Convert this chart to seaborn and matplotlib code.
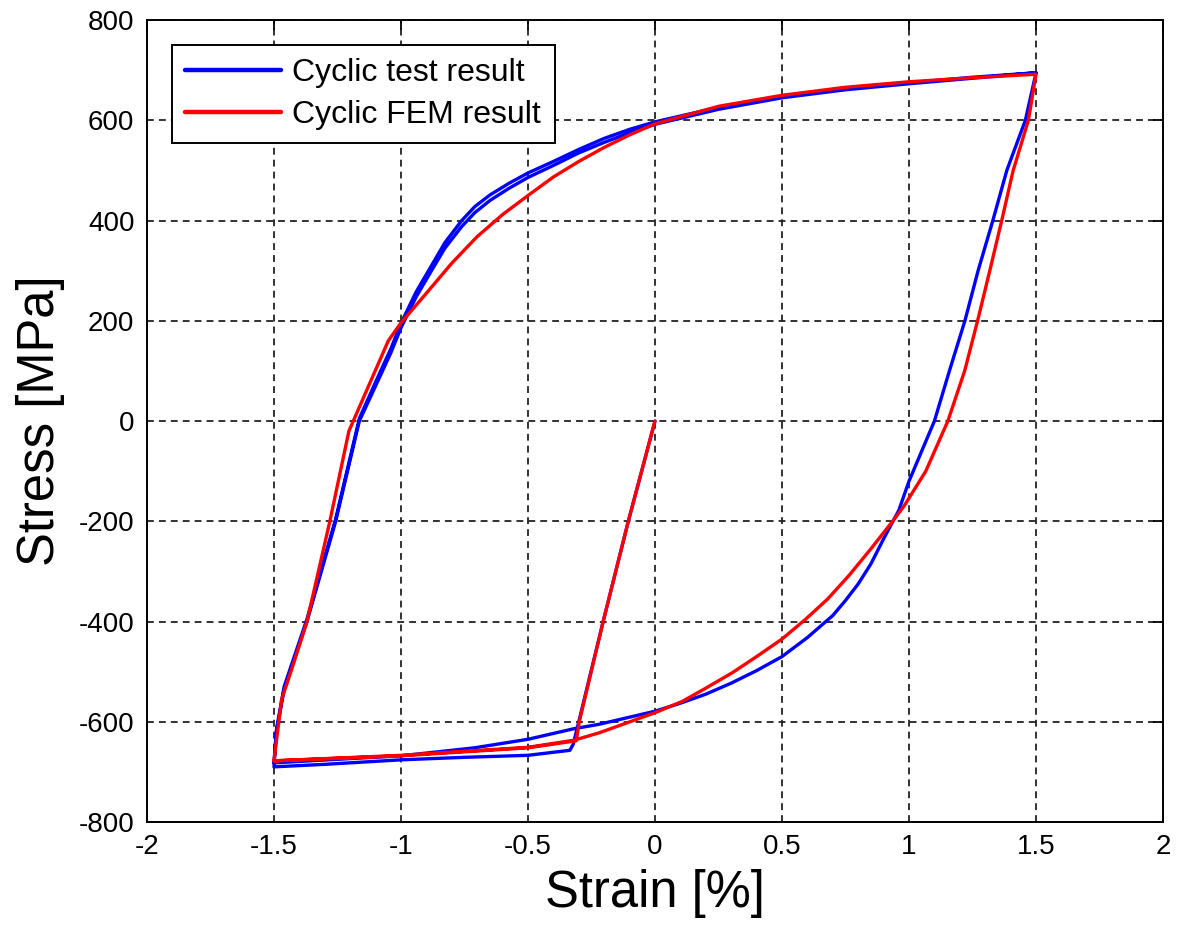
import numpy as np
import pandas as pd
import matplotlib
matplotlib.use("Agg")
import matplotlib.pyplot as plt
import seaborn as sns

# ---------------- data ----------------
test_strain = [
    # initial compressive loading
    0.0, -0.105, -0.204, -0.300, -0.322, -0.335, -0.5, -0.75, -1.0, -1.3, -1.5,
    # reverse loading (cycle 1, lower edge of band)
    -1.49, -1.46, -1.37, -1.257, -1.164, -1.12, -1.08, -1.04, -1.0, -0.94, -0.88,
    -0.827, -0.761, -0.709, -0.65, -0.576, -0.5, -0.4, -0.3, -0.2, -0.1, 0.0,
    0.25, 0.5, 0.75, 1.0, 1.25, 1.5,
    # unloading / compressive loading
    1.458, 1.385, 1.33, 1.272, 1.22, 1.159, 1.10, 1.05, 1.0, 0.96, 0.9, 0.85,
    0.8, 0.75, 0.7, 0.6, 0.5, 0.4, 0.3, 0.2, 0.1, 0.0, -0.219, -0.32, -0.5,
    -0.71, -1.0, -1.5,
    # reverse loading (cycle 2, upper edge of band)
    -1.49, -1.46, -1.37, -1.257, -1.164, -1.12, -1.08, -1.04, -1.0, -0.94, -0.88,
    -0.827, -0.761, -0.709, -0.65, -0.576, -0.5, -0.4, -0.3, -0.2, -0.1, 0.0,
    0.25, 0.5, 0.75, 1.0, 1.25, 1.5,
]
test_stress = [
    0, -200, -400, -600, -645, -657, -667, -671, -676, -685, -690,
    -620, -536, -400, -200, 0, 48, 92, 136, 186, 248, 300,
    345, 388, 416, 440, 464, 486, 510, 535, 556, 575, 592,
    622, 645, 661, 673, 684, 695,
    600, 500, 400, 300, 200, 100, 0, -60, -120, -178, -235, -285,
    -325, -358, -388, -432, -470, -498, -523, -545, -563, -579, -605, -614, -635,
    -652, -668, -682,
    -615, -530, -395, -195, 5, 55, 100, 144, 195, 258, 310,
    356, 400, 428, 451, 474, 495, 518, 542, 564, 582, 597,
    626, 648, 663, 675, 686, 695,
]

fem_strain = [
    # initial compressive loading
    0.0, -0.105, -0.204, -0.298, -0.31, -0.5, -1.0, -1.5,
    # reverse loading
    -1.47, -1.43, -1.37, -1.28, -1.205, -1.05, -1.0, -0.9, -0.8, -0.7, -0.6,
    -0.5, -0.4, -0.3, -0.2, -0.1, 0.0, 0.1, 0.25, 0.5, 0.75, 1.0, 1.25, 1.5,
    # unloading / compressive loading
    1.47, 1.41, 1.365, 1.318, 1.27, 1.219, 1.153, 1.066, 0.98, 0.934, 0.85,
    0.764, 0.68, 0.594, 0.5, 0.4, 0.305, 0.2, 0.109, 0.0, -0.219, -0.32, -0.5,
    -1.0, -1.5,
]
fem_stress = [
    0, -200, -400, -600, -638, -652, -668, -678,
    -556, -495, -400, -200, -20, 160, 196, 255, 315, 368, 412,
    450, 487, 518, 546, 571, 593, 607, 628, 650, 666, 677, 685, 692,
    600, 500, 400, 300, 200, 100, 0, -100, -170, -201, -255,
    -308, -355, -395, -435, -470, -502, -533, -559, -582, -622, -637, -651,
    -667, -678,
]

series_names = ["Cyclic test result", "Cyclic FEM result"]
series_colors = ["#0000ff", "#ff0000"]

xtick_values = [-2, -1.5, -1, -0.5, 0, 0.5, 1, 1.5, 2]
xtick_labels = ["-2", "-1.5", "-1", "-0.5", "0", "0.5", "1", "1.5", "2"]
ytick_values = [-800, -600, -400, -200, 0, 200, 400, 600, 800]
ytick_labels = ["-800", "-600", "-400", "-200", "0", "200", "400", "600", "800"]

# ---------------- build table ----------------
df = pd.concat([
    pd.DataFrame({"strain": test_strain, "stress": test_stress, "series": series_names[0]}),
    pd.DataFrame({"strain": fem_strain, "stress": fem_stress, "series": series_names[1]}),
], ignore_index=True)

sns.set_style("white")
plt.rcParams["font.family"] = ["Liberation Sans", "DejaVu Sans"]
plt.rcParams["axes.unicode_minus"] = False
plt.rcParams["text.color"] = "black"
plt.rcParams["axes.labelcolor"] = "black"

fig = plt.figure(figsize=(11.87, 9.27), dpi=100)
ax = fig.add_axes([0.1238, 0.1133, 0.856, 0.865])

sns.lineplot(data=df, x="strain", y="stress", hue="series", hue_order=series_names,
             palette=dict(zip(series_names, series_colors)), sort=False,
             estimator=None, linewidth=2.4, ax=ax, legend=True)

ax.set_xlim(-2, 2)
ax.set_ylim(-800, 800)
ax.set_xticks(xtick_values)
ax.set_xticklabels(xtick_labels)
ax.set_yticks(ytick_values)
ax.set_yticklabels(ytick_labels)

ax.grid(True, color="#222222", linestyle=(0, (3.8, 2.8)), linewidth=1.3)
ax.set_axisbelow(True)
for s in ax.spines.values():
    s.set_color("black")
    s.set_linewidth(1.4)
ax.tick_params(axis="both", which="major", direction="in", length=7, width=1.3,
               top=True, right=True, labelsize=20, pad=9, colors="black")

ax.set_xlabel("Strain [%]", fontsize=36.5, labelpad=6, color="black")
ax.set_ylabel("Stress [MPa]", fontsize=36.5, labelpad=10, color="black")

handles, labels = ax.get_legend_handles_labels()
leg = ax.legend(handles, labels, loc="upper left", bbox_to_anchor=(0.0246, 0.969),
                fontsize=23, frameon=True, fancybox=False, framealpha=1,
                edgecolor="black", handlelength=3.0, borderpad=0.42,
                labelspacing=0.36, handletextpad=0.35, borderaxespad=0)
leg.get_frame().set_linewidth(1.4)
for ln in leg.get_lines():
    ln.set_linewidth(3.2)

fig.savefig("out.png", dpi=100)
